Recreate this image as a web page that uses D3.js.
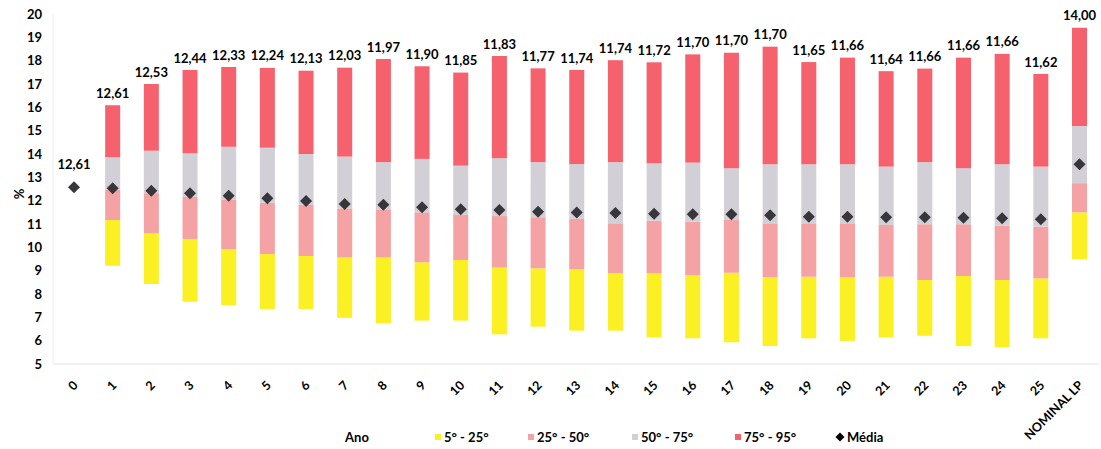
<!DOCTYPE html>
<html>
<head>
<meta charset="utf-8">
<script src="https://cdn.jsdelivr.net/npm/d3@7"></script>
<style>
  body { margin: 0; background: #fff; }
  svg text { font-family: Lato, "Liberation Sans", Arial, sans-serif; font-weight: 700; fill: #000; }
</style>
</head>
<body>
<div id="chart"></div>
<script>
'use strict';

// categorias do eixo x
const categorias = ["0","1","2","3","4","5","6","7","8","9","10","11","12","13","14","15","16","17","18","19","20","21","22","23","24","25","NOMINAL LP"];

// percentis (%)
const p5  = [null, 9.21, 8.43, 7.67, 7.53, 7.36, 7.36, 6.98, 6.74, 6.86, 6.86, 6.27, 6.60, 6.43, 6.43, 6.14, 6.10, 5.93, 5.77, 6.10, 5.99, 6.14, 6.21, 5.77, 5.72, 6.10, 9.50];
const p25 = [null, 11.17, 10.60, 10.36, 9.92, 9.71, 9.63, 9.57, 9.57, 9.36, 9.46, 9.13, 9.10, 9.07, 8.89, 8.89, 8.81, 8.91, 8.72, 8.74, 8.72, 8.74, 8.60, 8.77, 8.60, 8.67, 11.50];
const p50 = [null, 12.46, 12.32, 12.17, 12.03, 11.91, 11.82, 11.67, 11.60, 11.50, 11.39, 11.34, 11.29, 11.22, 11.03, 11.14, 11.10, 11.17, 11.03, 11.03, 11.03, 10.96, 10.99, 10.99, 10.93, 10.89, 12.75];
const p75 = [null, 13.86, 14.14, 14.03, 14.31, 14.27, 14.00, 13.89, 13.65, 13.79, 13.50, 13.82, 13.65, 13.57, 13.65, 13.60, 13.63, 13.39, 13.56, 13.56, 13.56, 13.46, 13.65, 13.39, 13.56, 13.46, 15.20];
const p95 = [null, 16.09, 17.00, 17.60, 17.73, 17.69, 17.57, 17.70, 18.07, 17.76, 17.49, 18.20, 17.67, 17.60, 18.02, 17.93, 18.27, 18.34, 18.60, 17.94, 18.13, 17.55, 17.66, 18.13, 18.29, 17.43, 19.41];

// media (losango) e rotulos impressos acima das barras
const media   = [12.58, 12.53, 12.42, 12.32, 12.21, 12.10, 11.99, 11.86, 11.82, 11.72, 11.63, 11.60, 11.53, 11.49, 11.47, 11.44, 11.42, 11.42, 11.37, 11.31, 11.31, 11.29, 11.29, 11.27, 11.25, 11.20, 13.56];
const rotulos = [12.61, 12.61, 12.53, 12.44, 12.33, 12.24, 12.13, 12.03, 11.97, 11.90, 11.85, 11.83, 11.77, 11.74, 11.74, 11.72, 11.70, 11.70, 11.70, 11.65, 11.66, 11.64, 11.66, 11.66, 11.66, 11.62, 14.00];

const yTicks = [5,6,7,8,9,10,11,12,13,14,15,16,17,18,19,20];
const faixas = ["5° - 25°", "25° - 50°", "50° - 75°", "75° - 95°"];
const cores  = ["#faf024", "#f4a2a4", "#d2cfd7", "#f5626d"];
const corMedia = "#36363b";

const width = 1101, height = 449;
const barW = 15;

const svg = d3.select("#chart").append("svg")
    .attr("width", width)
    .attr("height", height);

const x = d3.scalePoint()
    .domain(categorias)
    .range([74, 1079.5]);

const y = d3.scaleLinear()
    .domain([5, 20])
    .range([364, 14]);

const fmt = d3.formatLocale({decimal: ",", thousands: ".", grouping: [3], currency: ["", ""]}).format(".2f");

// eixos (linhas claras)
svg.append("line")
    .attr("x1", 53).attr("x2", 1099)
    .attr("y1", y(5)).attr("y2", y(5))
    .attr("stroke", "#e4e4e4").attr("stroke-width", 1);
svg.append("line")
    .attr("x1", 53).attr("x2", 53)
    .attr("y1", y(20)).attr("y2", y(5))
    .attr("stroke", "#eeeeee").attr("stroke-width", 1);

const yAxis = svg.append("g")
    .attr("transform", "translate(53,0)")
    .call(d3.axisLeft(y).tickValues(yTicks).tickSize(0).tickPadding(11).tickFormat(d3.format("d")));
yAxis.select(".domain").remove();
yAxis.selectAll("text").style("font-size", "13px");

const xAxis = svg.append("g")
    .attr("transform", "translate(0," + y(5) + ")")
    .call(d3.axisBottom(x).tickSize(0));
xAxis.select(".domain").remove();
xAxis.selectAll("text")
    .attr("x", 0).attr("y", 0).attr("dy", "0.35em")
    .attr("transform", "translate(1,19) rotate(-45)")
    .style("text-anchor", "end")
    .style("font-size", "12.5px");

// segmentos empilhados
const limites = [p5, p25, p50, p75, p95];
for (let s = 0; s < 4; s++) {
    const baixo = limites[s], alto = limites[s + 1];
    svg.append("g")
        .selectAll("rect")
        .data(categorias.map((c, i) => ({c: c, lo: baixo[i], hi: alto[i]})).filter(d => d.lo != null))
        .join("rect")
        .attr("x", d => x(d.c) - barW / 2)
        .attr("width", barW)
        .attr("y", d => y(d.hi))
        .attr("height", d => y(d.lo) - y(d.hi))
        .attr("fill", cores[s]);
}

// media
const losango = d3.symbol().type(d3.symbolSquare).size(72);
svg.append("g")
    .selectAll("path")
    .data(categorias.map((c, i) => ({c: c, v: media[i]})))
    .join("path")
    .attr("d", losango)
    .attr("transform", d => "translate(" + x(d.c) + "," + y(d.v) + ") rotate(45)")
    .attr("fill", corMedia);

// rotulos
svg.append("g")
    .selectAll("text")
    .data(categorias.map((c, i) => ({c: c, v: rotulos[i], top: p95[i] != null ? y(p95[i]) - 12 : y(media[i]) - 23})))
    .join("text")
    .attr("x", d => x(d.c))
    .attr("y", d => d.top)
    .attr("dy", "0.35em")
    .attr("text-anchor", "middle")
    .style("font-size", "13px")
    .text(d => fmt(d.v));

// titulo eixo y
svg.append("text")
    .attr("transform", "translate(19,194) rotate(-90)")
    .attr("text-anchor", "middle")
    .attr("dy", "0.35em")
    .style("font-size", "13px")
    .text("%");

// legenda
const legY = 437;
svg.append("text")
    .attr("x", 357).attr("y", legY).attr("dy", "0.35em")
    .attr("text-anchor", "middle")
    .style("font-size", "13px")
    .text("Ano");

const legX = [435, 528, 632, 735];
const leg = svg.append("g")
    .selectAll("g")
    .data(faixas)
    .join("g")
    .attr("transform", (d, i) => "translate(" + legX[i] + "," + legY + ")");
leg.append("rect")
    .attr("x", 0).attr("y", -3).attr("width", 6).attr("height", 6)
    .attr("fill", (d, i) => cores[i]);
leg.append("text")
    .attr("x", 9).attr("dy", "0.35em")
    .style("font-size", "13px")
    .text(d => d);

const legM = svg.append("g").attr("transform", "translate(840," + legY + ")");
legM.append("path")
    .attr("d", d3.symbol().type(d3.symbolSquare).size(40))
    .attr("transform", "rotate(45)")
    .attr("fill", "#000");
legM.append("text")
    .attr("x", 7).attr("dy", "0.35em")
    .style("font-size", "13px")
    .text("Média");
</script>
</body>
</html>
